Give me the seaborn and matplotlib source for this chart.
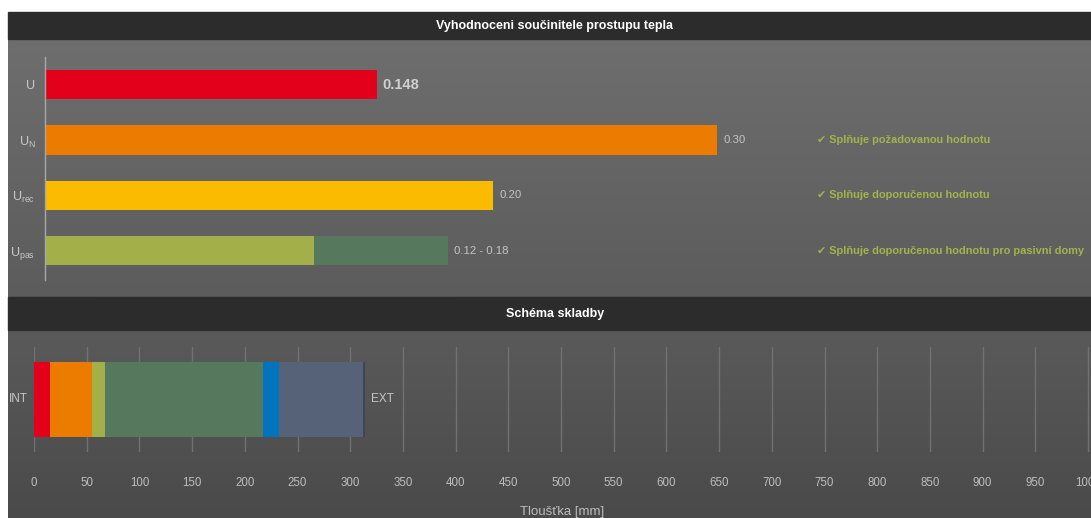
import numpy as np
import pandas as pd
import matplotlib
matplotlib.use("Agg")
import matplotlib.pyplot as plt
from matplotlib import font_manager
from matplotlib.patches import Rectangle
import seaborn as sns

# --- data ---
U_CATS = ["U", "U_N", "U_rec", "U_pas"]
U_LABELS = [r"U", r"U$_\mathregular{N}$", r"U$_\mathregular{rec}$", r"U$_\mathregular{pas}$"]
U_VALUES = [0.148, 0.30, 0.20, 0.18]
U_PAS_LOW = 0.12
U_TEXT = ["0.148", "0.30", "0.20", "0.12 - 0.18"]
U_COLORS = ["#e2001a", "#ec7c00", "#fbbb00", "#56785c"]
STATUS = [None,
          "Splňuje požadovanou hodnotu",
          "Splňuje doporučenou hodnotu",
          "Splňuje doporučenou hodnotu pro pasivní domy"]

LAYER_THICK = [15, 40, 12, 150, 15, 80, 2]   # mm
LAYER_COLORS = ["#e2001a", "#ec7c00", "#a3b04a", "#56785c", "#0074bd", "#556277", "#3b4656"]
X_TICKS = list(range(0, 1001, 50))

W, H = 1091, 518
names = {f.name for f in font_manager.fontManager.ttflist}
FONT = "Liberation Sans Narrow" if "Liberation Sans Narrow" in names else "Liberation Sans"

sns.set_theme(style="dark")
plt.rcParams["font.family"] = [FONT, "DejaVu Sans"]
plt.rcParams["mathtext.fontset"] = "custom"
plt.rcParams["mathtext.rm"] = FONT

fig = plt.figure(figsize=(W / 100, H / 100), dpi=100, facecolor="white")


def px_box(x0, y0, x1, y1):
    return [x0 / W, 1 - y1 / H, (x1 - x0) / W, (y1 - y0) / H]


def gradient_bg(box, top, bottom):
    bg = fig.add_axes(box, zorder=0)
    c0 = np.array(matplotlib.colors.to_rgb(top))
    c1 = np.array(matplotlib.colors.to_rgb(bottom))
    t = np.linspace(0, 1, 256)[:, None, None]
    img = c0 * (1 - t) + c1 * t
    bg.imshow(np.repeat(img, 2, axis=1), aspect="auto", extent=[0, 1, 0, 1])
    bg.set_axis_off()


# backgrounds and title bars
gradient_bg(px_box(8, 39, W, 297), "#6e6e6e", "#5c5c5c")
gradient_bg(px_box(8, 330, W, H), "#5a5a5a", "#4a4a4a")
for y0, y1 in [(12, 39), (297, 330)]:
    fig.add_artist(Rectangle((8 / W, 1 - y1 / H), (W - 8) / W, (y1 - y0) / H,
                             transform=fig.transFigure, color="#2c2c2c", zorder=1))
fig.text(555 / W, 1 - 25.5 / H, "Vyhodnoceni součinitele prostupu tepla", color="white",
         fontsize=9, fontweight="bold", ha="center", va="center")
fig.text(555 / W, 1 - 313.5 / H, "Schéma skladby", color="white",
         fontsize=9, fontweight="bold", ha="center", va="center")

# --- top chart: U values ---
ax = fig.add_axes(px_box(45, 57, W, 280), zorder=2)
ax.patch.set_alpha(0)
df_u = pd.DataFrame({"cat": U_CATS, "val": U_VALUES})
sns.barplot(data=df_u, x="val", y="cat", hue="cat", palette=U_COLORS, order=U_CATS,
            width=0.53, legend=False, ax=ax, saturation=1, linewidth=0)
sns.barplot(x=[U_PAS_LOW], y=["U_pas"], order=U_CATS, color="#a3b04a",
            width=0.53, ax=ax, saturation=1, linewidth=0)
ax.set_xlim(0, (W - 45) / 2240)
ax.set_ylim(3.53, -0.5)
ax.set_xlabel("")
ax.set_ylabel("")
ax.set_xticks([])
ax.set_yticks(range(len(U_CATS)))
ax.set_yticklabels(U_LABELS, color="#c8c8c8", fontsize=9)
ax.tick_params(axis="y", length=0, pad=7)
for s in ["top", "right", "bottom"]:
    ax.spines[s].set_visible(False)
ax.spines["left"].set_color("#a8a8a8")
ax.spines["left"].set_linewidth(1)
for i, (v, txt) in enumerate(zip(U_VALUES, U_TEXT)):
    bold = i == 0
    ax.text(v + 0.0027, i, txt, va="center", ha="left",
            color="#d0d0d0" if bold else "#c4c4c4",
            fontsize=10.5 if bold else 8.2, fontweight="bold" if bold else "normal")
    if STATUS[i]:
        ax.text((817 - 45) / 2240, i, "✔ " + STATUS[i], va="center", ha="left",
                color="#a2b44a", fontsize=7.9, fontweight="bold",
                family=[FONT, "DejaVu Sans"])

# --- bottom chart: layers ---
bx = fig.add_axes(px_box(34, 347, W, 452), zorder=2)
bx.patch.set_alpha(0)
cum = np.cumsum(LAYER_THICK)
for c, col in reversed(list(zip(cum, LAYER_COLORS))):
    sns.barplot(x=[c], y=["skladba"], color=col, width=0.72, ax=bx, saturation=1,
                linewidth=0, zorder=3)
bx.set_xlim(0, 1000 * (W - 34) / 1054)
bx.set_ylim(0.5, -0.5)
bx.set_xticks(X_TICKS)
bx.set_xticklabels([str(t) for t in X_TICKS], color="#bdbdbd", fontsize=8.3)
bx.tick_params(axis="x", length=0, pad=18)
bx.set_yticks([])
bx.set_ylabel("")
bx.grid(axis="x", color="#717171", linewidth=1)
for s in bx.spines.values():
    s.set_visible(False)
bx.set_xlabel("Tloušťka [mm]", color="#bdbdbd", fontsize=9.5, labelpad=12)
bx.text(-25 / 1.054, 0, "INT", ha="left", va="center", color="#c4c4c4", fontsize=8.5)
bx.text(cum[-1] + 6, 0, "EXT", ha="left", va="center", color="#c4c4c4", fontsize=8.5)

fig.savefig("out.png", dpi=100, facecolor="white")
